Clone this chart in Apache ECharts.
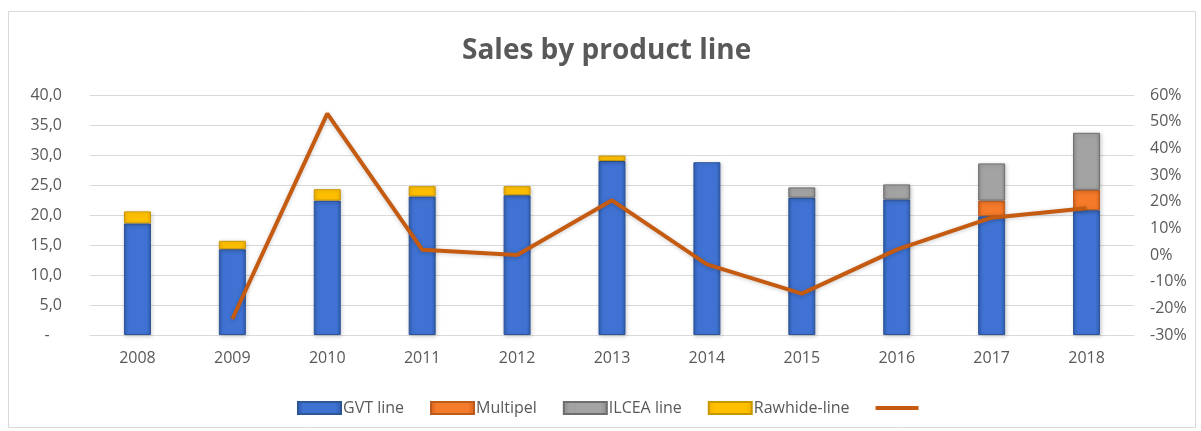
<!DOCTYPE html>
<html>
<head>
<meta charset="utf-8">
<script src="https://cdn.jsdelivr.net/npm/echarts@6/dist/echarts.min.js"></script>
<style>
  html, body { margin: 0; padding: 0; background: #ffffff; }
  #chart { width: 1201px; height: 431px; }
</style>
</head>
<body>
<div id="chart"></div>
<script>
// Yearly sales (stacked by product line) and year-over-year growth
const years = ['2008', '2009', '2010', '2011', '2012', '2013', '2014', '2015', '2016', '2017', '2018'];
const gvtLine = [18.6, 14.3, 22.4, 23.1, 23.3, 29.0, 28.8, 22.9, 22.6, 19.8, 20.8];
const multipel = [null, null, null, null, null, null, null, null, null, 2.6, 3.4];
const ilceaLine = [null, null, null, null, null, null, null, 1.7, 2.5, 6.2, 9.5];
const rawhideLine = [2.0, 1.4, 1.9, 1.7, 1.5, 0.9, null, null, null, null, null];
const growthPct = [null, -24, 53, 2, 0, 20.5, -3.5, -14.5, 2, 14, 17.5];

const leftTicks = { min: 0, max: 40, step: 5 };
const rightTicks = { min: -30, max: 60, step: 10 };

const textColor = '#595959';
const font = 'Open Sans';

function barFill(base, dark) {
  return new echarts.graphic.LinearGradient(0, 0, 1, 0, [
    { offset: 0, color: dark },
    { offset: 0.15, color: base },
    { offset: 0.85, color: base },
    { offset: 1, color: dark }
  ]);
}

function barSeries(name, data, base, dark, border) {
  return {
    name: name,
    type: 'bar',
    stack: 'sales',
    barWidth: 27,
    data: data,
    itemStyle: {
      color: barFill(base, dark),
      borderColor: border,
      borderWidth: 1,
      shadowColor: 'rgba(0,0,0,0.18)',
      shadowBlur: 4,
      shadowOffsetX: 1,
      shadowOffsetY: 1
    }
  };
}

const chart = echarts.init(document.getElementById('chart'), null, { renderer: 'canvas' });

chart.setOption({
  animation: false,
  backgroundColor: '#ffffff',
  title: {
    text: 'Sales by product line',
    left: 457,
    top: 32,
    textStyle: { fontFamily: font, fontSize: 28, fontWeight: 'bold', color: textColor }
  },
  graphic: [{
    type: 'rect',
    shape: { x: 8.5, y: 11.5, width: 1187, height: 416 },
    style: { fill: 'none', stroke: '#d9d9d9', lineWidth: 1 },
    silent: true
  }],
  legend: {
    top: 395,
    left: 292,
    itemWidth: 43,
    itemHeight: 12,
    itemGap: 26,
    textStyle: { fontFamily: font, fontSize: 16, color: textColor, padding: [0, 0, 0, -3] },
    data: [
      { name: 'GVT line', icon: 'rect' },
      { name: 'Multipel', icon: 'rect' },
      { name: 'ILCEA line', icon: 'rect' },
      { name: 'Rawhide-line', icon: 'rect' },
      { name: ' ', icon: 'path://M0 0 H42 V4 H0 Z' }
    ]
  },
  grid: { left: 90, right: 67, top: 95, bottom: 96, containLabel: false },
  xAxis: {
    type: 'category',
    data: years,
    axisLine: { lineStyle: { color: '#d9d9d9', width: 1 } },
    axisTick: { show: false },
    axisLabel: { fontFamily: font, fontSize: 16, color: textColor, margin: 15 }
  },
  yAxis: [
    {
      type: 'value',
      min: leftTicks.min,
      max: leftTicks.max,
      interval: leftTicks.step,
      axisLine: { show: false },
      axisTick: { show: false },
      splitLine: { lineStyle: { color: '#d9d9d9', width: 1 } },
      axisLabel: {
        fontFamily: font, fontSize: 16, color: textColor, margin: 28,
        formatter: function (v) { return v === 0 ? '-   ' : v.toFixed(1).replace('.', ','); }
      }
    },
    {
      type: 'value',
      min: rightTicks.min,
      max: rightTicks.max,
      interval: rightTicks.step,
      axisLine: { show: false },
      axisTick: { show: false },
      splitLine: { show: false },
      axisLabel: {
        fontFamily: font, fontSize: 16, color: textColor, margin: 16,
        formatter: function (v) { return v + '%'; }
      }
    }
  ],
  series: [
    barSeries('GVT line', gvtLine, '#3f72d2', '#2f5cb0', '#2e5596'),
    barSeries('Multipel', multipel, '#f57a2a', '#d9621a', '#b95a1e'),
    barSeries('ILCEA line', ilceaLine, '#a3a3a3', '#8c8c8c', '#6e6e6e'),
    barSeries('Rawhide-line', rawhideLine, '#ffc000', '#f0ad00', '#c99600'),
    {
      name: ' ',
      type: 'line',
      yAxisIndex: 1,
      data: growthPct,
      symbol: 'none',
      connectNulls: false,
      lineStyle: {
        color: '#c55a11',
        width: 4,
        shadowColor: 'rgba(0,0,0,0.2)',
        shadowBlur: 4,
        shadowOffsetY: 1
      },
      itemStyle: { color: '#c55a11' }
    }
  ]
});
</script>
</body>
</html>
